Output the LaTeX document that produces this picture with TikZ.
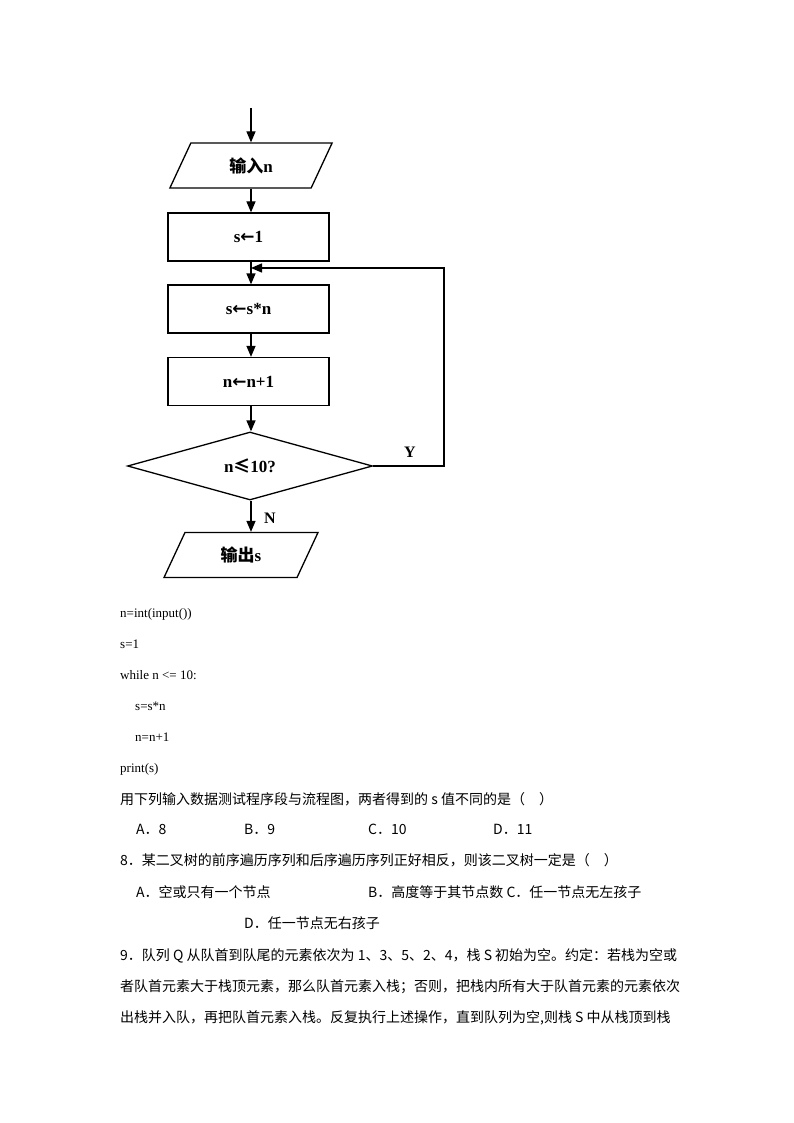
\documentclass[tikz,border=0pt]{standalone}
\usepackage{fontspec}
\setmainfont{Liberation Serif}
\newfontfamily\cjk{Noto Sans CJK SC}
\newfontfamily\dvs{DejaVu Sans}
\usetikzlibrary{shapes.geometric,arrows.meta}
\newcommand{\myla}{{\dvs\bfseries ←}}
\begin{document}
\begin{tikzpicture}[x=1pt,y=-1pt,
  box/.style={draw,line width=1.3pt,minimum width=161pt,minimum height=48pt,font=\fontsize{17}{17}\selectfont\bfseries},
  io/.style={draw,line width=1.3pt,trapezium,trapezium left angle=65,trapezium right angle=115,minimum width=150pt,minimum height=45pt,inner sep=0pt,font=\fontsize{17}{17}\selectfont\bfseries},
  dec/.style={draw,line width=1.3pt,diamond,aspect=3.6,minimum width=245pt,minimum height=68pt,inner sep=0pt,font=\fontsize{17}{17}\selectfont\bfseries},
  arr/.style={line width=1.3pt,-{Triangle[length=11pt,width=9pt]}},
  txt/.style={anchor=base west,inner sep=0pt,font=\fontsize{14}{14}\selectfont\cjk},
  code/.style={anchor=base west,inner sep=0pt,font=\fontsize{13}{13}\selectfont}]
\useasboundingbox (0,0) rectangle (794,1123);
\coordinate (top) at (251,108);
\node[io] (in) at (251,165.5) {{\cjk\bfseries 输入}n};
\node[box] (s1) at (248.5,237) {s\myla1};
\node[box] (s2) at (248.5,309) {s\myla s*n};
\node[box] (n1) at (248.5,381.5) {n\myla n+1};
\node[dec] (d) at (250,466) {n{\cjk ≤}10?};
\node[io] (out) at (241,555) {{\cjk\bfseries 输出}s};
\coordinate (m) at (251,268);
\coordinate (r1) at (444,466);
\coordinate (r2) at (444,268);
\draw[arr] (top) -- (in.north -| top);
\draw[arr] (in.south -| top) -- (s1.north -| top);
\draw[arr] (s1.south -| top) -- (s2.north -| top);
\draw[arr] (s2.south -| top) -- (n1.north -| top);
\draw[arr] (n1.south -| top) -- (d.north -| top);
\draw[arr] (d.south -| top) -- (out.north -| top);
\draw[arr] (d.east) -- (r1) -- (r2) -- (m);
\node[font=\fontsize{16}{16}\selectfont\bfseries] (Y) at (410,452) {Y};
\node[font=\fontsize{16}{16}\selectfont\bfseries] (N) at (270,518) {N};
\node[code] (c1) at (120,617) {n=int(input())};
\node[code] (c2) at (120,648) {s=1};
\node[code] (c3) at (120,679) {while n <= 10:};
\node[code] (c4) at (135,710) {s=s*n};
\node[code] (c5) at (135,741) {n=n+1};
\node[code] (c6) at (120,772) {print(s)};
\node[txt] (t1) at (120,804) {用下列输入数据测试程序段与流程图，两者得到的 s 值不同的是（　）};
\node[txt] (a1) at (136,834) {A．8};
\node[txt] (b1) at (244,834) {B．9};
\node[txt] (cc1) at (368,834) {C．10};
\node[txt] (dd1) at (493,834) {D．11};
\node[txt] (t2) at (120,865) {8．某二叉树的前序遍历序列和后序遍历序列正好相反，则该二叉树一定是（　）};
\node[txt] (a2) at (136,897) {A．空或只有一个节点};
\node[txt] (b2) at (368,897) {B．高度等于其节点数 C．任一节点无左孩子};
\node[txt] (d2) at (244,928) {D．任一节点无右孩子};
\node[txt] (t3) at (120,960) {9．队列 Q 从队首到队尾的元素依次为 1、3、5、2、4，栈 S 初始为空。约定：若栈为空或};
\node[txt] (t4) at (120,991) {者队首元素大于栈顶元素，那么队首元素入栈；否则，把栈内所有大于队首元素的元素依次};
\node[txt] (t5) at (120,1022) {出栈并入队，再把队首元素入栈。反复执行上述操作，直到队列为空,则栈 S 中从栈顶到栈};
\end{tikzpicture}
\end{document}
